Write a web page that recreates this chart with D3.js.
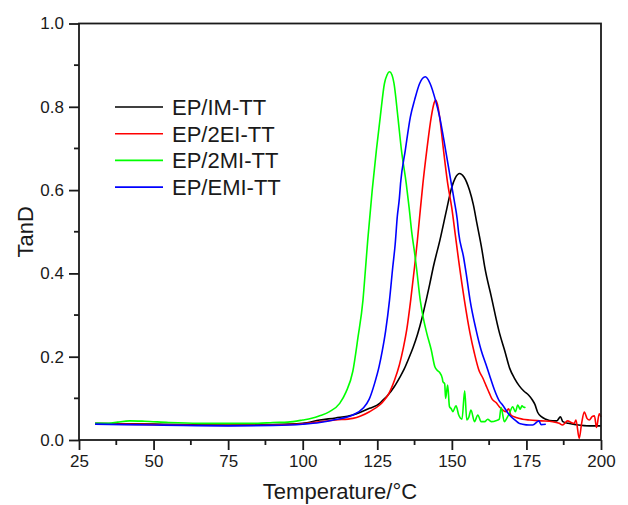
<!DOCTYPE html>
<html>
<head>
<meta charset="utf-8">
<script src="https://cdn.jsdelivr.net/npm/d3@7"></script>
<style>
  html, body { margin: 0; padding: 0; background: #fff; }
  svg { display: block; font-family: "Liberation Sans", Arial, sans-serif; }
</style>
</head>
<body>
<svg id="chart" width="628" height="505"></svg>
<script>
// Tan delta vs temperature for four cured epoxy systems
const seriesNames = ["EP/IM-TT", "EP/2EI-TT", "EP/2MI-TT", "EP/EMI-TT"];
const seriesColors = ["#000000", "#ff0000", "#00ff00", "#0000ff"];

const xTicks = [25, 50, 75, 100, 125, 150, 175, 200];
const yTicks = [0.0, 0.2, 0.4, 0.6, 0.8, 1.0];

// EP/IM-TT
const tempIM = [30.4, 40, 50, 60, 75, 90, 100, 105.7, 111, 116.8, 122.4, 125.8, 126.9, 128.6, 130.5, 132.5, 134.0, 135.5, 137.0, 138.5, 140.0, 141.4, 142.6, 143.8, 146.0, 148.3, 149.9, 151.2, 152.6, 154.0, 155.9, 157.2, 158.4, 160.1, 161.0, 163.2, 166.0, 167.7, 169.4, 171.0, 172.6, 174.2, 175.7, 177.0, 177.8, 178.8, 180.0, 181.5, 183.8, 185.2, 186.4, 187.2, 189.0, 191.6, 196.1, 200];
const tanIM  = [0.040, 0.039, 0.038, 0.037, 0.036, 0.037, 0.040, 0.048, 0.053, 0.060, 0.076, 0.088, 0.096, 0.108, 0.126, 0.150, 0.170, 0.195, 0.222, 0.254, 0.293, 0.336, 0.375, 0.416, 0.480, 0.555, 0.605, 0.630, 0.640, 0.632, 0.600, 0.565, 0.520, 0.456, 0.416, 0.345, 0.256, 0.215, 0.172, 0.148, 0.130, 0.117, 0.108, 0.096, 0.086, 0.066, 0.056, 0.050, 0.046, 0.046, 0.056, 0.044, 0.040, 0.037, 0.034, 0.034];

// EP/2EI-TT
const temp2EI = [30.4, 40, 50, 60, 75, 90, 100, 105.7, 111, 116.8, 122.4, 125.8, 126.9, 128.6, 130.8, 132.4, 133.7, 134.9, 136.2, 137.5, 138.4, 139.2, 140.3, 141.6, 143.1, 144.0, 144.5, 145.2, 145.9, 147.2, 148.6, 150.0, 151.2, 152.3, 154.2, 156.1, 157.5, 159.2, 160.3, 161.5, 162.6, 163.5, 164.8, 165.9, 168.2, 169.0, 169.8, 171.5, 173.7, 176.0, 180.0, 183.8, 186.0, 187.1, 188.8, 190.0, 191.0, 191.6, 192.7, 193.5, 194.4, 195.3, 196.1, 197.0, 197.8, 198.5, 199.4, 200];
const tan2EI  = [0.038, 0.038, 0.037, 0.036, 0.035, 0.036, 0.039, 0.044, 0.048, 0.052, 0.068, 0.084, 0.092, 0.108, 0.144, 0.180, 0.220, 0.266, 0.336, 0.416, 0.476, 0.536, 0.616, 0.696, 0.776, 0.808, 0.816, 0.805, 0.776, 0.696, 0.616, 0.556, 0.490, 0.430, 0.336, 0.256, 0.210, 0.165, 0.150, 0.130, 0.112, 0.098, 0.090, 0.080, 0.068, 0.075, 0.060, 0.054, 0.050, 0.048, 0.046, 0.044, 0.040, 0.036, 0.046, 0.042, 0.040, 0.048, 0.004, 0.040, 0.067, 0.052, 0.048, 0.056, 0.058, 0.030, 0.063, 0.055];

// EP/2MI-TT
const temp2MI = [30.4, 35, 38, 42, 47, 55, 65, 75, 85, 90, 95, 100, 103, 105.7, 109, 112.4, 114.5, 116.8, 118.5, 120.2, 121.1, 121.8, 123.3, 124.7, 126.0, 127.4, 128.3, 129.1, 129.9, 130.6, 131.9, 133.1, 134.7, 135.7, 136.6, 137.5, 138.1, 139.4, 140.5, 141.6, 143.1, 144.3, 145.0, 145.9, 146.8, 147.0, 147.6, 147.9, 148.6, 149.2, 149.8, 150.3, 151.4, 152.3, 153.4, 154.3, 155.0, 155.7, 156.4, 157.6, 158.7, 159.8, 161.0, 162.0, 163.2, 165.0, 165.9, 166.5, 167.6, 168.7, 169.3, 170.4, 171.3, 172.1, 172.9, 173.5, 174.3, 174.6];
const tan2MI  = [0.040, 0.040, 0.043, 0.046, 0.045, 0.042, 0.040, 0.040, 0.040, 0.042, 0.043, 0.048, 0.052, 0.058, 0.068, 0.088, 0.115, 0.165, 0.245, 0.336, 0.416, 0.480, 0.600, 0.696, 0.776, 0.856, 0.877, 0.884, 0.877, 0.856, 0.776, 0.696, 0.616, 0.556, 0.496, 0.450, 0.416, 0.336, 0.290, 0.256, 0.216, 0.176, 0.168, 0.162, 0.148, 0.140, 0.135, 0.100, 0.132, 0.080, 0.075, 0.068, 0.082, 0.060, 0.050, 0.118, 0.048, 0.055, 0.072, 0.044, 0.060, 0.044, 0.044, 0.050, 0.044, 0.047, 0.050, 0.078, 0.044, 0.056, 0.064, 0.080, 0.068, 0.084, 0.074, 0.082, 0.078, 0.080];

// EP/EMI-TT
const tempEMI = [30.4, 40, 50, 60, 75, 90, 100, 105.7, 111, 116.8, 120.2, 122.3, 124.1, 125.6, 126.7, 127.8, 129.1, 130.2, 131.0, 131.7, 132.4, 132.8, 134.4, 136.1, 137.5, 139.2, 141.1, 142.7, 144.5, 145.9, 147.9, 149.8, 150.8, 151.8, 152.3, 153.9, 154.8, 156.1, 158.1, 159.8, 161.5, 162.6, 164.2, 165.9, 167.0, 169.3, 171.5, 172.6, 173.7, 175.9, 177.1, 178.7, 179.2, 179.9, 181.5];
const tanEMI  = [0.038, 0.037, 0.036, 0.035, 0.034, 0.035, 0.038, 0.042, 0.049, 0.060, 0.076, 0.098, 0.136, 0.176, 0.215, 0.262, 0.336, 0.416, 0.470, 0.536, 0.580, 0.616, 0.696, 0.776, 0.816, 0.856, 0.872, 0.856, 0.816, 0.776, 0.696, 0.616, 0.575, 0.530, 0.496, 0.440, 0.400, 0.336, 0.265, 0.216, 0.180, 0.156, 0.122, 0.094, 0.084, 0.060, 0.046, 0.040, 0.038, 0.036, 0.036, 0.044, 0.046, 0.037, 0.038];

const temps = [tempIM, temp2EI, temp2MI, tempEMI];
const tans = [tanIM, tan2EI, tan2MI, tanEMI];

const svg = d3.select("#chart");
const margin = { left: 79, right: 27, top: 23.5, bottom: 65 };
const W = 628, H = 505;

const x = d3.scaleLinear().domain([25, 200]).range([margin.left, W - margin.right]);
const y = d3.scaleLinear().domain([0, 1]).range([H - margin.bottom, margin.top]);

const axisColor = "#1a1a1a";
const fontSize = 17;

// Curves
const line = d3.line()
  .x(d => x(d[0]))
  .y(d => y(d[1]))
  .curve(d3.curveMonotoneX);

const plot = svg.append("g");
seriesNames.forEach((name, i) => {
  const pts = temps[i].map((t, k) => [t, tans[i][k]]);
  plot.append("path")
    .datum(pts)
    .attr("fill", "none")
    .attr("stroke", seriesColors[i])
    .attr("stroke-width", 1.6)
    .attr("stroke-linejoin", "round")
    .attr("d", line);
});

// Frame
svg.append("rect")
  .attr("x", x(25)).attr("y", y(1))
  .attr("width", x(200) - x(25)).attr("height", y(0) - y(1))
  .attr("fill", "none").attr("stroke", axisColor).attr("stroke-width", 1.8);

// Bottom axis with major and minor ticks
const xAxis = svg.append("g")
  .attr("transform", `translate(0,${y(0)})`)
  .call(d3.axisBottom(x).tickValues(xTicks).tickSize(10).tickPadding(5).tickFormat(d3.format("d")));
const xMinor = d3.range(37.5, 200, 25);
svg.append("g").selectAll("line").data(xMinor).join("line")
  .attr("x1", d => x(d)).attr("x2", d => x(d))
  .attr("y1", y(0)).attr("y2", y(0) + 5)
  .attr("stroke", axisColor).attr("stroke-width", 1.8);

// Left axis with major and minor ticks
const yAxis = svg.append("g")
  .attr("transform", `translate(${x(25)},0)`)
  .call(d3.axisLeft(y).tickValues(yTicks).tickSize(10).tickPadding(5).tickFormat(d3.format(".1f")));
const yMinor = [0.1, 0.3, 0.5, 0.7, 0.9];
svg.append("g").selectAll("line").data(yMinor).join("line")
  .attr("x1", x(25) - 5).attr("x2", x(25))
  .attr("y1", d => y(d)).attr("y2", d => y(d))
  .attr("stroke", axisColor).attr("stroke-width", 1.8);

[xAxis, yAxis].forEach(g => {
  g.select(".domain").remove();
  g.selectAll(".tick line").attr("stroke", axisColor).attr("stroke-width", 1.8);
  g.selectAll(".tick text")
    .attr("fill", axisColor)
    .style("font-size", fontSize + "px")
    .style("font-family", "'Liberation Sans', Arial, sans-serif");
});

// Axis titles
svg.append("text")
  .attr("x", (x(25) + x(200)) / 2)
  .attr("y", 499)
  .attr("text-anchor", "middle")
  .attr("fill", axisColor)
  .style("font-size", "22px")
  .text("Temperature/°C");

svg.append("text")
  .attr("transform", `translate(33,${(y(0) + y(1)) / 2}) rotate(-90)`)
  .attr("text-anchor", "middle")
  .attr("fill", axisColor)
  .style("font-size", "22px")
  .text("TanD");

// Legend
const legend = svg.append("g").attr("transform", "translate(115,107)");
seriesNames.forEach((name, i) => {
  const row = legend.append("g").attr("transform", `translate(0,${i * 26.7})`);
  row.append("line")
    .attr("x1", 0).attr("x2", 48)
    .attr("y1", 0).attr("y2", 0)
    .attr("stroke", seriesColors[i]).attr("stroke-width", 1.6);
  row.append("text")
    .attr("x", 57)
    .attr("y", 8)
    .attr("fill", axisColor)
    .style("font-size", "22px")
    .text(name);
});
</script>
</body>
</html>
